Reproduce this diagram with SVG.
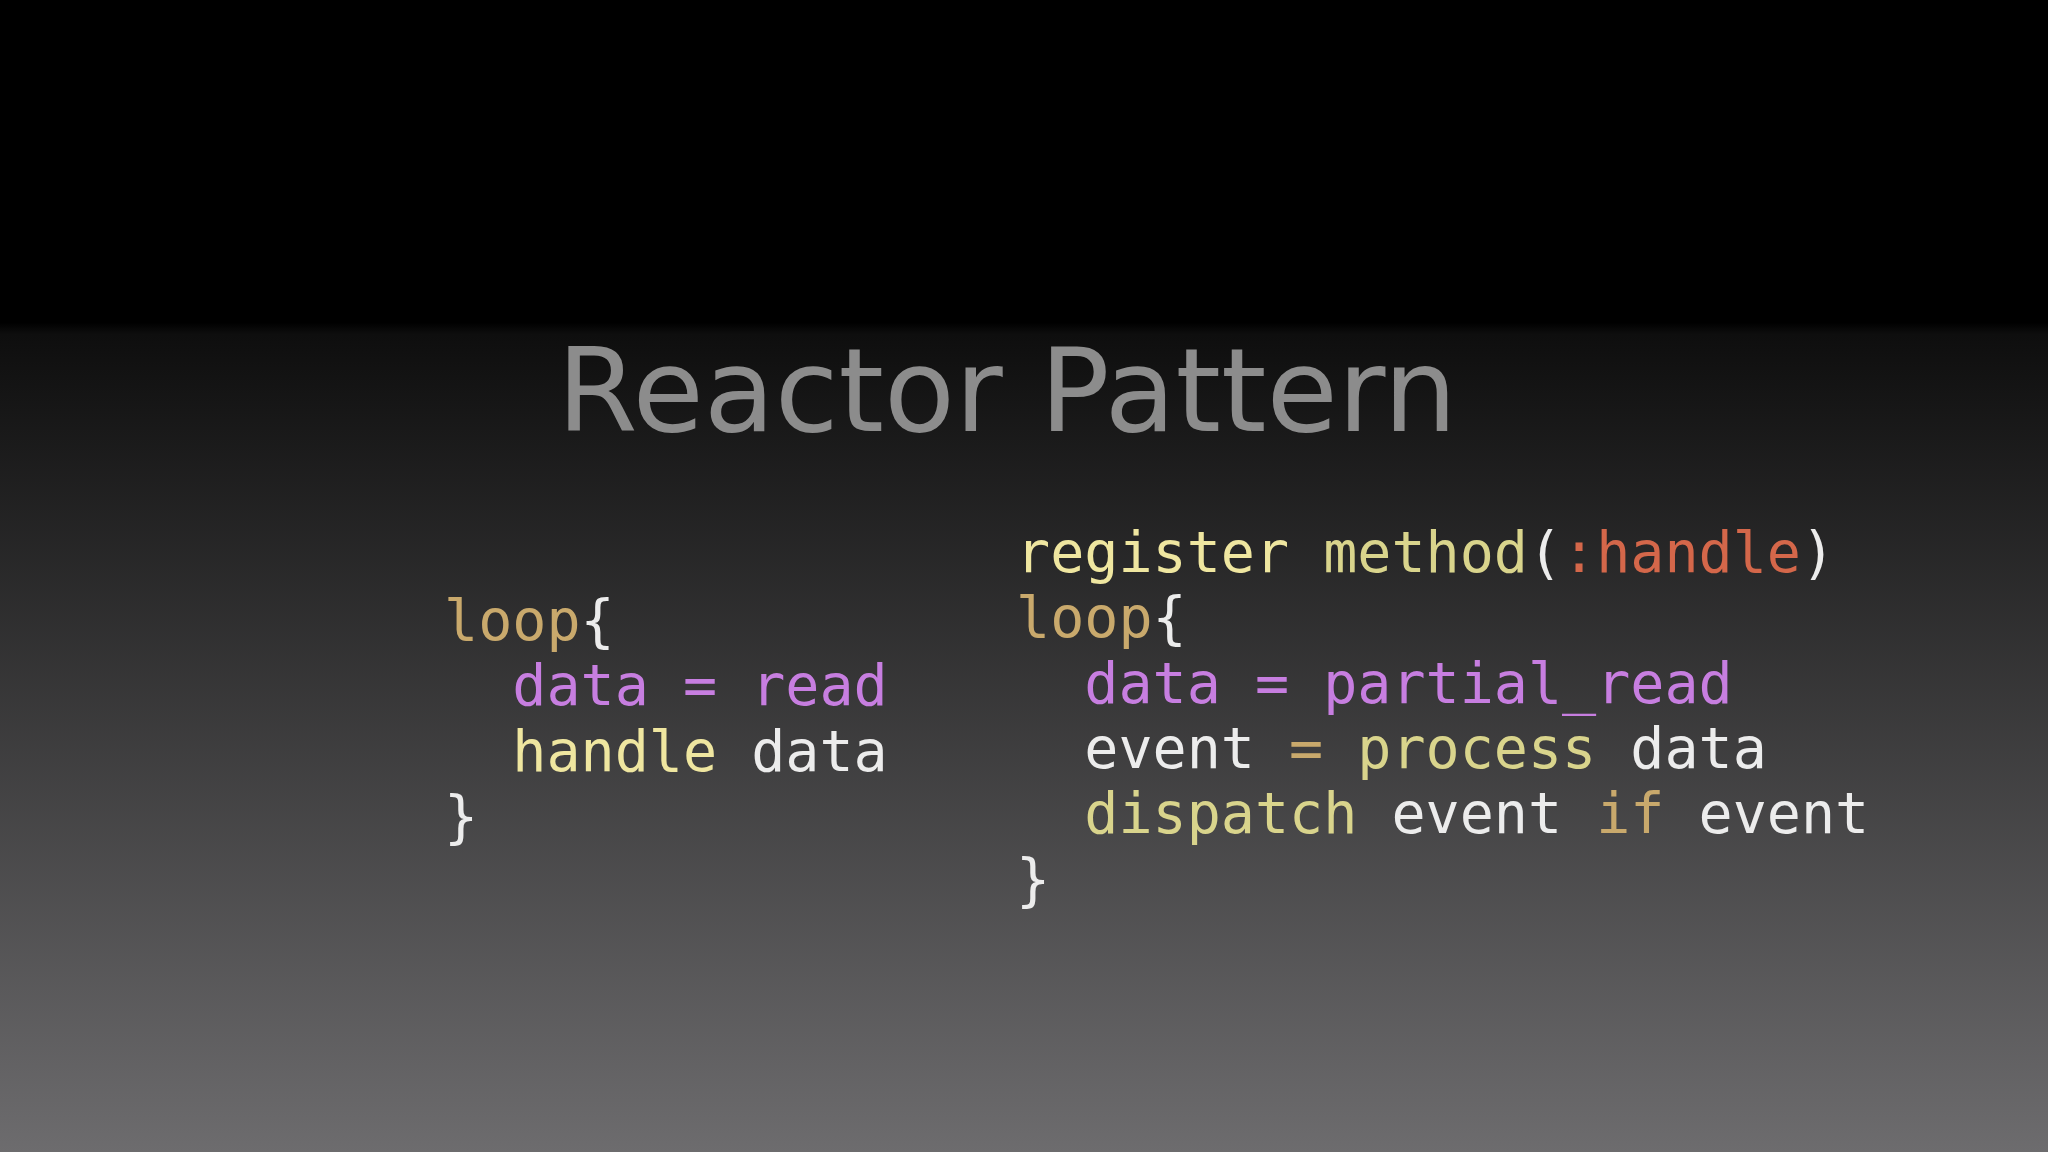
<svg xmlns="http://www.w3.org/2000/svg" width="2048" height="1152" viewBox="0 0 2048 1152">
<defs>
<linearGradient id="bg" x1="0" y1="0" x2="0" y2="1">
<stop offset="0" stop-color="#000"/>
<stop offset="0.28" stop-color="#000"/>
<stop offset="0.29" stop-color="#0e0e0e"/>
<stop offset="1" stop-color="#6d6c6e"/>
</linearGradient>
<style>
.t{font-family:"DejaVu Sans",sans-serif;font-size:116px;fill:#8c8c8c}
.c{font-family:"DejaVu Sans Mono",monospace;font-size:56.7px;fill:#ececec;white-space:pre}
.kw{fill:#c9a96c}.pu{fill:#c77ee0}.ye{fill:#efe6a0}.sy{fill:#d4674a}.pr{fill:#d9d48c}
</style>
</defs>
<rect width="2048" height="1152" fill="url(#bg)"/>
<g id="title"><text class="t" x="557" y="431">Reactor Pattern</text></g>
<g id="left" class="c" xml:space="preserve">
<text class="c" x="444" y="640"><tspan class="kw">loop</tspan>{</text>
<text class="c" x="444" y="705">  <tspan class="pu">data = read</tspan></text>
<text class="c" x="444" y="771">  <tspan class="ye">handle</tspan> data</text>
<text class="c" x="444" y="836">}</text>
</g>
<g id="right" xml:space="preserve">
<text class="c" x="1016" y="572"><tspan class="ye">register</tspan> <tspan class="pr">method</tspan>(<tspan class="sy">:handle</tspan>)</text>
<text class="c" x="1016" y="637"><tspan class="kw">loop</tspan>{</text>
<text class="c" x="1016" y="703">  <tspan class="pu">data = partial_read</tspan></text>
<text class="c" x="1016" y="768">  event <tspan class="kw">=</tspan> <tspan class="pr">process</tspan> data</text>
<text class="c" x="1016" y="833">  <tspan class="pr">dispatch</tspan> event <tspan class="kw">if</tspan> event</text>
<text class="c" x="1016" y="899">}</text>
</g>
</svg>
